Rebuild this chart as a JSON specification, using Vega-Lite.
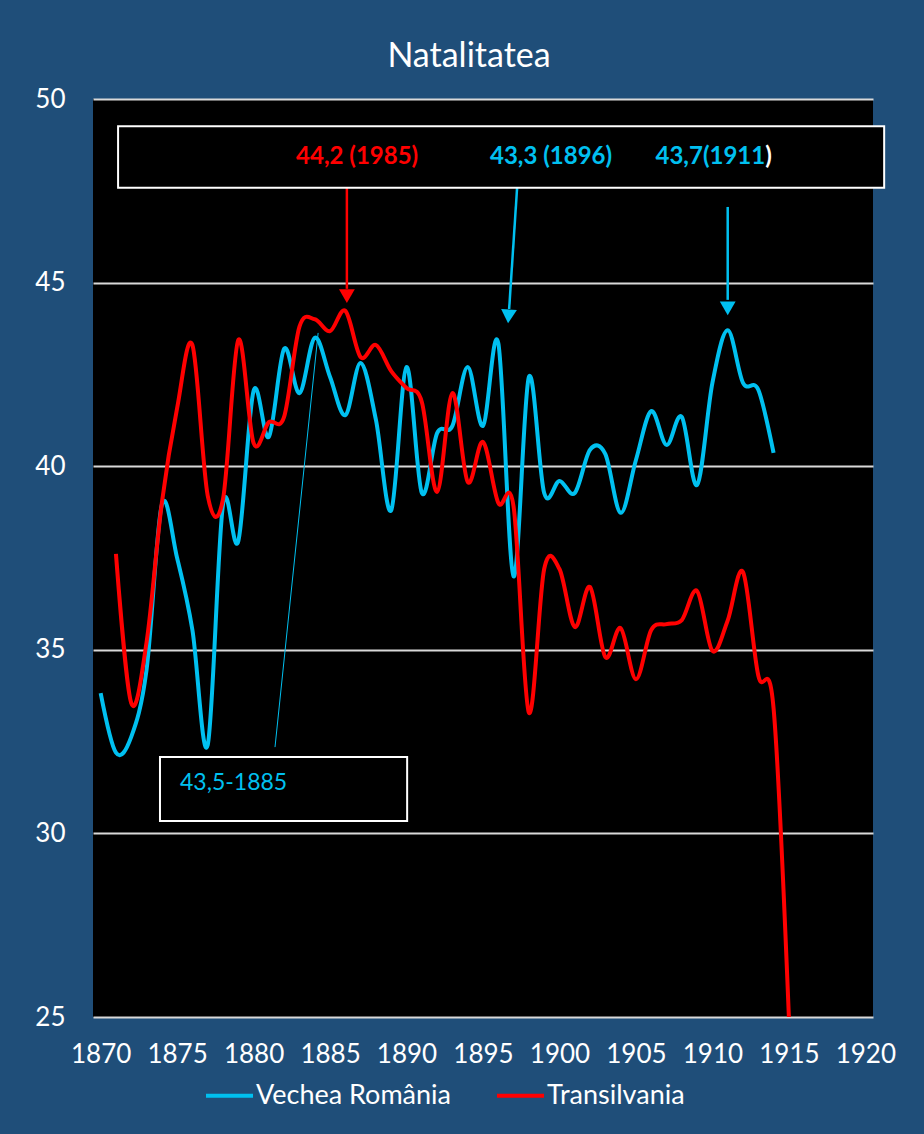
{
  "$schema": "https://vega.github.io/schema/vega-lite/v6.json",
  "width": 780,
  "height": 918,
  "autosize": {"type": "none"},
  "padding": {"left": 93, "top": 99, "right": 51, "bottom": 117},
  "background": "#1F4E79",
  "config": {"view": {"fill": "black", "stroke": null}, "font": "Lato"},
  "title": {"text": "Natalitatea", "color": "white", "fontSize": 34, "font": "Lato", "fontWeight": "normal", "offset": 12, "dx": -14},
  "datasets": {
    "series": [
      {"year": 1870, "region": "Vechea România", "value": 33.82},
      {"year": 1871, "region": "Vechea România", "value": 32.2},
      {"year": 1872, "region": "Vechea România", "value": 32.63},
      {"year": 1873, "region": "Vechea România", "value": 34.45},
      {"year": 1874, "region": "Vechea România", "value": 38.95},
      {"year": 1875, "region": "Vechea România", "value": 37.5},
      {"year": 1876, "region": "Vechea România", "value": 35.54},
      {"year": 1877, "region": "Vechea România", "value": 32.41},
      {"year": 1878, "region": "Vechea România", "value": 38.95},
      {"year": 1879, "region": "Vechea România", "value": 37.96},
      {"year": 1880, "region": "Vechea România", "value": 42.05},
      {"year": 1881, "region": "Vechea România", "value": 40.8},
      {"year": 1882, "region": "Vechea România", "value": 43.2},
      {"year": 1883, "region": "Vechea România", "value": 41.99},
      {"year": 1884, "region": "Vechea România", "value": 43.5},
      {"year": 1885, "region": "Vechea România", "value": 42.43},
      {"year": 1886, "region": "Vechea România", "value": 41.39},
      {"year": 1887, "region": "Vechea România", "value": 42.81},
      {"year": 1888, "region": "Vechea România", "value": 41.26},
      {"year": 1889, "region": "Vechea România", "value": 38.8},
      {"year": 1890, "region": "Vechea România", "value": 42.7},
      {"year": 1891, "region": "Vechea România", "value": 39.27},
      {"year": 1892, "region": "Vechea România", "value": 40.9},
      {"year": 1893, "region": "Vechea România", "value": 41.1},
      {"year": 1894, "region": "Vechea România", "value": 42.7},
      {"year": 1895, "region": "Vechea România", "value": 41.1},
      {"year": 1896, "region": "Vechea România", "value": 43.35},
      {"year": 1897, "region": "Vechea România", "value": 37.0},
      {"year": 1898, "region": "Vechea România", "value": 42.43},
      {"year": 1899, "region": "Vechea România", "value": 39.27},
      {"year": 1900, "region": "Vechea România", "value": 39.6},
      {"year": 1901, "region": "Vechea România", "value": 39.27},
      {"year": 1902, "region": "Vechea România", "value": 40.45},
      {"year": 1903, "region": "Vechea România", "value": 40.33},
      {"year": 1904, "region": "Vechea România", "value": 38.73},
      {"year": 1905, "region": "Vechea România", "value": 40.17},
      {"year": 1906, "region": "Vechea România", "value": 41.5},
      {"year": 1907, "region": "Vechea România", "value": 40.58},
      {"year": 1908, "region": "Vechea România", "value": 41.34},
      {"year": 1909, "region": "Vechea România", "value": 39.49},
      {"year": 1910, "region": "Vechea România", "value": 42.27},
      {"year": 1911, "region": "Vechea România", "value": 43.7},
      {"year": 1912, "region": "Vechea România", "value": 42.27},
      {"year": 1913, "region": "Vechea România", "value": 42.08},
      {"year": 1914, "region": "Vechea România", "value": 40.36},
      {"year": 1871, "region": "Transilvania", "value": 37.61},
      {"year": 1872, "region": "Transilvania", "value": 33.55},
      {"year": 1873, "region": "Transilvania", "value": 35.2},
      {"year": 1874, "region": "Transilvania", "value": 39.0},
      {"year": 1875, "region": "Transilvania", "value": 41.58},
      {"year": 1876, "region": "Transilvania", "value": 43.3},
      {"year": 1877, "region": "Transilvania", "value": 39.2},
      {"year": 1878, "region": "Transilvania", "value": 39.1},
      {"year": 1879, "region": "Transilvania", "value": 43.44},
      {"year": 1880, "region": "Transilvania", "value": 40.63},
      {"year": 1881, "region": "Transilvania", "value": 41.2},
      {"year": 1882, "region": "Transilvania", "value": 41.35},
      {"year": 1883, "region": "Transilvania", "value": 43.8},
      {"year": 1884, "region": "Transilvania", "value": 44.0},
      {"year": 1885, "region": "Transilvania", "value": 43.68},
      {"year": 1886, "region": "Transilvania", "value": 44.23},
      {"year": 1887, "region": "Transilvania", "value": 42.97},
      {"year": 1888, "region": "Transilvania", "value": 43.3},
      {"year": 1889, "region": "Transilvania", "value": 42.59},
      {"year": 1890, "region": "Transilvania", "value": 42.13},
      {"year": 1891, "region": "Transilvania", "value": 41.75},
      {"year": 1892, "region": "Transilvania", "value": 39.3},
      {"year": 1893, "region": "Transilvania", "value": 41.99},
      {"year": 1894, "region": "Transilvania", "value": 39.57},
      {"year": 1895, "region": "Transilvania", "value": 40.66},
      {"year": 1896, "region": "Transilvania", "value": 39.0},
      {"year": 1897, "region": "Transilvania", "value": 38.9},
      {"year": 1898, "region": "Transilvania", "value": 33.29},
      {"year": 1899, "region": "Transilvania", "value": 37.2},
      {"year": 1900, "region": "Transilvania", "value": 37.2},
      {"year": 1901, "region": "Transilvania", "value": 35.62},
      {"year": 1902, "region": "Transilvania", "value": 36.71},
      {"year": 1903, "region": "Transilvania", "value": 34.8},
      {"year": 1904, "region": "Transilvania", "value": 35.59},
      {"year": 1905, "region": "Transilvania", "value": 34.2},
      {"year": 1906, "region": "Transilvania", "value": 35.54},
      {"year": 1907, "region": "Transilvania", "value": 35.7},
      {"year": 1908, "region": "Transilvania", "value": 35.81},
      {"year": 1909, "region": "Transilvania", "value": 36.6},
      {"year": 1910, "region": "Transilvania", "value": 34.97},
      {"year": 1911, "region": "Transilvania", "value": 35.8},
      {"year": 1912, "region": "Transilvania", "value": 37.12},
      {"year": 1913, "region": "Transilvania", "value": 34.3},
      {"year": 1914, "region": "Transilvania", "value": 33.4},
      {"year": 1915, "region": "Transilvania", "value": 25.0}
    ],
    "boxes": [
      {"x": 1871.14, "x2": 1921.23, "y": 47.58, "y2": 49.26},
      {"x": 1873.88, "x2": 1890.04, "y": 30.34, "y2": 32.08}
    ],
    "redArrow": [{"x": 1886.1, "x2": 1886.1, "y": 47.58, "y2": 44.83}],
    "cyanArrows": [
      {"x": 1897.23, "x2": 1896.71, "y": 47.58, "y2": 44.28},
      {"x": 1911.0, "x2": 1911.0, "y": 47.06, "y2": 44.53}
    ],
    "thinLine": [{"x": 1881.4, "x2": 1884.22, "y": 32.35, "y2": 43.63}],
    "redHead": [{"x": 1886.1, "y": 44.63}],
    "cyanHeads": [
      {"x": 1896.67, "y": 44.08, "angle": 4},
      {"x": 1911.0, "y": 44.3, "angle": 0}
    ],
    "redLabel": [{"x": 1886.77, "y": 48.42, "text": "44,2 (1985)"}],
    "cyanLabels": [{"x": 1899.45, "y": 48.42, "text": "43,3 (1896)"}],
    "cyanLabelRight": [{"x": 1913.45, "y": 48.42, "text": "43,7(1911"}],
    "whiteParen": [{"x": 1913.45, "y": 48.42, "text": ")"}],
    "boxLabel": [{"x": 1875.19, "y": 31.37, "text": "43,5-1885"}]
  },
  "layer": [
    {
      "data": {"name": "series"},
      "mark": {"type": "line", "interpolate": "cardinal", "strokeWidth": 4},
      "encoding": {
        "x": {
          "field": "year", "type": "quantitative",
          "scale": {"domain": [1869.5, 1920.5], "nice": false, "zero": false},
          "axis": {"values": [1870, 1875, 1880, 1885, 1890, 1895, 1900, 1905, 1910, 1915, 1920], "format": "d", "grid": false, "ticks": false, "domain": false, "labelColor": "white", "labelFontSize": 26, "labelFont": "Lato", "labelPadding": 24, "title": null}
        },
        "y": {
          "field": "value", "type": "quantitative",
          "scale": {"domain": [25, 50], "nice": false, "zero": false},
          "axis": {"values": [25, 30, 35, 40, 45, 50], "grid": true, "gridColor": "#D9D9D9", "gridWidth": 2, "gridOpacity": 1, "ticks": false, "domain": false, "labelColor": "white", "labelFontSize": 26, "labelFont": "Lato", "labelPadding": 28, "title": null}
        },
        "color": {
          "field": "region", "type": "nominal",
          "scale": {"domain": ["Vechea România", "Transilvania"], "range": ["#00C0F0", "#FF0000"]},
          "legend": {"orient": "none", "legendX": 111, "legendY": 971, "direction": "horizontal", "title": null, "symbolType": "stroke", "symbolSize": 2209, "symbolStrokeWidth": 4, "labelColor": "white", "labelFontSize": 27, "labelFont": "Lato", "labelOffset": 1, "labelLimit": 0, "columnPadding": 38, "padding": 0}
        }
      }
    },
    {
      "data": {"name": "redArrow"},
      "mark": {"type": "rule", "color": "#FF0000", "strokeWidth": 2.5},
      "encoding": {
        "x": {"field": "x", "type": "quantitative", "scale": {"domain": [1869.5, 1920.5]}},
        "x2": {"field": "x2"},
        "y": {"field": "y", "type": "quantitative", "scale": {"domain": [25, 50]}},
        "y2": {"field": "y2"}
      }
    },
    {
      "data": {"name": "cyanArrows"},
      "mark": {"type": "rule", "color": "#00C0F0", "strokeWidth": 2.5},
      "encoding": {
        "x": {"field": "x", "type": "quantitative", "scale": {"domain": [1869.5, 1920.5]}},
        "x2": {"field": "x2"},
        "y": {"field": "y", "type": "quantitative", "scale": {"domain": [25, 50]}},
        "y2": {"field": "y2"}
      }
    },
    {
      "data": {"name": "thinLine"},
      "mark": {"type": "rule", "color": "#00C0F0", "strokeWidth": 1},
      "encoding": {
        "x": {"field": "x", "type": "quantitative", "scale": {"domain": [1869.5, 1920.5]}},
        "x2": {"field": "x2"},
        "y": {"field": "y", "type": "quantitative", "scale": {"domain": [25, 50]}},
        "y2": {"field": "y2"}
      }
    },
    {
      "data": {"name": "redHead"},
      "mark": {"type": "point", "shape": "triangle-down", "filled": true, "color": "#FF0000", "size": 250, "opacity": 1},
      "encoding": {
        "x": {"field": "x", "type": "quantitative", "scale": {"domain": [1869.5, 1920.5]}},
        "y": {"field": "y", "type": "quantitative", "scale": {"domain": [25, 50]}}
      }
    },
    {
      "data": {"name": "cyanHeads"},
      "mark": {"type": "point", "shape": "triangle-down", "filled": true, "color": "#00C0F0", "size": 250, "opacity": 1},
      "encoding": {
        "x": {"field": "x", "type": "quantitative", "scale": {"domain": [1869.5, 1920.5]}},
        "y": {"field": "y", "type": "quantitative", "scale": {"domain": [25, 50]}},
        "angle": {"field": "angle", "type": "quantitative", "scale": null}
      }
    },
    {
      "data": {"name": "boxes"},
      "mark": {"type": "rect", "fill": "black", "stroke": "white", "strokeWidth": 2},
      "encoding": {
        "x": {"field": "x", "type": "quantitative", "scale": {"domain": [1869.5, 1920.5]}},
        "x2": {"field": "x2"},
        "y": {"field": "y", "type": "quantitative", "scale": {"domain": [25, 50]}},
        "y2": {"field": "y2"}
      }
    },
    {
      "data": {"name": "redLabel"},
      "mark": {"type": "text", "color": "#FF0000", "fontSize": 24, "fontWeight": "bold", "font": "Lato", "align": "center", "baseline": "middle"},
      "encoding": {
        "x": {"field": "x", "type": "quantitative", "scale": {"domain": [1869.5, 1920.5]}},
        "y": {"field": "y", "type": "quantitative", "scale": {"domain": [25, 50]}},
        "text": {"field": "text"}
      }
    },
    {
      "data": {"name": "cyanLabels"},
      "mark": {"type": "text", "color": "#00C0F0", "fontSize": 24, "fontWeight": "bold", "font": "Lato", "align": "center", "baseline": "middle"},
      "encoding": {
        "x": {"field": "x", "type": "quantitative", "scale": {"domain": [1869.5, 1920.5]}},
        "y": {"field": "y", "type": "quantitative", "scale": {"domain": [25, 50]}},
        "text": {"field": "text"}
      }
    },
    {
      "data": {"name": "cyanLabelRight"},
      "mark": {"type": "text", "color": "#00C0F0", "fontSize": 24, "fontWeight": "bold", "font": "Lato", "align": "right", "baseline": "middle"},
      "encoding": {
        "x": {"field": "x", "type": "quantitative", "scale": {"domain": [1869.5, 1920.5]}},
        "y": {"field": "y", "type": "quantitative", "scale": {"domain": [25, 50]}},
        "text": {"field": "text"}
      }
    },
    {
      "data": {"name": "whiteParen"},
      "mark": {"type": "text", "color": "white", "fontSize": 24, "fontWeight": "bold", "font": "Lato", "align": "left", "baseline": "middle"},
      "encoding": {
        "x": {"field": "x", "type": "quantitative", "scale": {"domain": [1869.5, 1920.5]}},
        "y": {"field": "y", "type": "quantitative", "scale": {"domain": [25, 50]}},
        "text": {"field": "text"}
      }
    },
    {
      "data": {"name": "boxLabel"},
      "mark": {"type": "text", "color": "#00C0F0", "fontSize": 23, "font": "Lato", "align": "left", "baseline": "middle"},
      "encoding": {
        "x": {"field": "x", "type": "quantitative", "scale": {"domain": [1869.5, 1920.5]}},
        "y": {"field": "y", "type": "quantitative", "scale": {"domain": [25, 50]}},
        "text": {"field": "text"}
      }
    }
  ]
}
